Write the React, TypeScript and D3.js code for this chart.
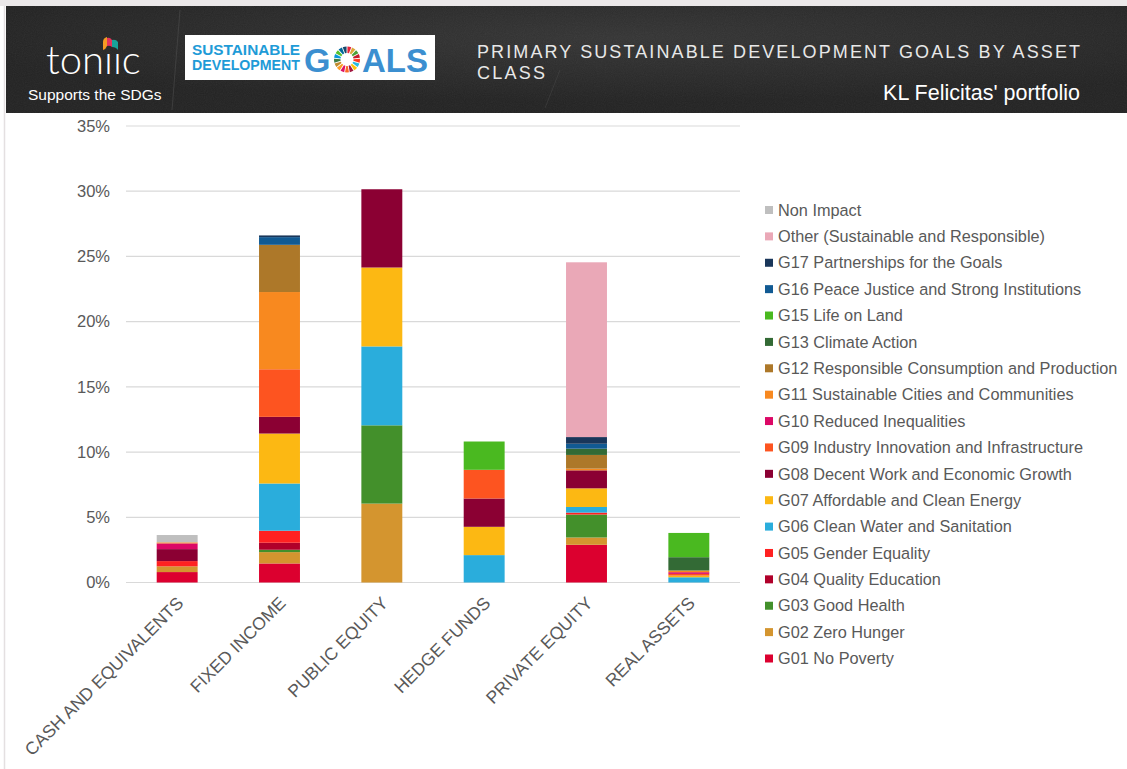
import * as d3 from "d3";

const W = 1127;
const H = 769;

const categories = [
  "CASH AND EQUIVALENTS",
  "FIXED INCOME",
  "PUBLIC EQUITY",
  "HEDGE FUNDS",
  "PRIVATE EQUITY",
  "REAL ASSETS",
];

// stack order, bottom to top
const goals = [
  "G01 No Poverty",
  "G02 Zero Hunger",
  "G03 Good Health",
  "G04 Quality Education",
  "G05 Gender Equality",
  "G06 Clean Water and Sanitation",
  "G07 Affordable and Clean Energy",
  "G08 Decent Work and Economic Growth",
  "G09 Industry Innovation and Infrastructure",
  "G10 Reduced Inequalities",
  "G11 Sustainable Cities and Communities",
  "G12 Responsible Consumption and Production",
  "G13 Climate Action",
  "G15 Life on Land",
  "G16 Peace Justice and Strong Institutions",
  "G17 Partnerships for the Goals",
  "Other (Sustainable and Responsible)",
  "Non Impact",
];

const goalColors = [
  "#dc002f", "#d4952f", "#43902b", "#b0002a", "#ff2121", "#2aaddc",
  "#fcb813", "#8b0033", "#fd5420", "#dc0866", "#f8891f", "#ad7829",
  "#336a35", "#4ab920", "#115a93", "#19365a", "#eaa8b7", "#bfbfbf",
];

// percent of portfolio, one row per goal, columns follow categories
const g01 = [0.8, 1.46, 0, 0, 2.89, 0];
const g02 = [0.44, 0.87, 6.05, 0, 0.56, 0];
const g03 = [0, 0.18, 6.0, 0, 1.76, 0];
const g04 = [0, 0.54, 0, 0, 0, 0];
const g05 = [0.4, 0.92, 0, 0, 0.15, 0];
const g06 = [0, 3.62, 6.05, 2.1, 0.43, 0.4];
const g07 = [0, 3.83, 6.05, 2.17, 1.43, 0.13];
const g08 = [0.92, 1.28, 6.0, 2.17, 1.38, 0];
const g09 = [0, 3.65, 0, 2.2, 0, 0.13];
const g10 = [0.44, 0, 0, 0, 0, 0.13];
const g11 = [0.08, 5.92, 0, 0, 0.13, 0.13];
const g12 = [0, 3.62, 0, 0, 1.05, 0];
const g13 = [0, 0, 0, 0, 0.48, 1.02];
const g15 = [0, 0, 0, 2.17, 0, 1.86];
const g16 = [0, 0.59, 0, 0, 0.38, 0];
const g17 = [0, 0.13, 0, 0, 0.51, 0];
const other = [0, 0, 0, 0, 13.4, 0];
const nonImpact = [0.56, 0, 0, 0, 0, 0];

const seriesValues = [
  g01, g02, g03, g04, g05, g06, g07, g08, g09, g10, g11, g12, g13, g15, g16, g17, other, nonImpact,
];

const yTicks = [0, 5, 10, 15, 20, 25, 30, 35];

const sdgWheel = [
  "#E5243B", "#DDA63A", "#4C9F38", "#C5192D", "#FF3A21", "#26BDE2", "#FCC30B", "#A21942",
  "#FD6925", "#DD1367", "#FD9D24", "#BF8B2E", "#3F7E44", "#0A97D9", "#56C02B", "#00689D", "#19486A",
];

const FONT = "'Liberation Sans', Arial, Helvetica, sans-serif";
const TEXT = "#595959";

function Header() {
  const arc = d3.arc<d3.PieArcDatum<string>>().innerRadius(6.5).outerRadius(13).padAngle(0.06);
  const pie = d3.pie<string>().value(1).sort(null);
  const wheel = pie(sdgWheel);

  return (
    <g>
      <defs>
        <filter id="chalk" x="0" y="0" width="100%" height="100%">
          <feTurbulence type="fractalNoise" baseFrequency="0.9" numOctaves={2} seed={3} />
          <feColorMatrix type="saturate" values="0" />
        </filter>
        <radialGradient id="boardGlow" cx="0.55" cy="0.3" r="0.6">
          <stop offset="0" stopColor="#353535" />
          <stop offset="1" stopColor="#232323" />
        </radialGradient>
      </defs>
      <rect x={6} y={6} width={W - 6} height={107} fill="url(#boardGlow)" />
      <rect x={6} y={6} width={W - 6} height={107} filter="url(#chalk)" opacity={0.07} />
      <path d="M180,10 L172,110" stroke="#555" strokeWidth={0.8} opacity={0.6} />
      <path d="M560,70 L545,108" stroke="#4a4a4a" strokeWidth={0.8} opacity={0.6} />

      {/* toniic logo */}
      <text x={46} y={74} fill="#ffffff" fontFamily="Lato, 'Open Sans', sans-serif" fontWeight={300} fontSize={40}>
        tonııc
      </text>
      <path d="M103,50 L103,42 Q103,38 107,37 L107,46 Q106,49 103,50 Z" fill="#f59a23" />
      <path d="M107,46 L107,38 Q110,37 112,40 L112,47 Q110,45 107,46 Z" fill="#e4345b" />
      <path d="M112,47 L112,40 Q116,39 118,42 L118,50 Q116,47 112,47 Z" fill="#17a39a" />
      <text x={28} y={100} fill="#ffffff" fontFamily={FONT} fontSize={15.5}>
        Supports the SDGs
      </text>

      {/* SDG logo */}
      <rect x={185} y={35} width={250} height={45} fill="#ffffff" />
      <text x={192} y={55} fill="#1e9bd7" fontFamily={FONT} fontWeight={700} fontSize={14.5} textLength={108} lengthAdjust="spacingAndGlyphs">
        SUSTAINABLE
      </text>
      <text x={192} y={70} fill="#1e9bd7" fontFamily={FONT} fontWeight={700} fontSize={14.5} textLength={108} lengthAdjust="spacingAndGlyphs">
        DEVELOPMENT
      </text>
      <text x={304} y={72} fill="#3b8fd0" fontFamily={FONT} fontWeight={700} fontSize={34}>
        G
      </text>
      <g transform="translate(347,59.5)">
        {wheel.map((d, i) => (
          <path key={i} d={arc(d) ?? ""} fill={d.data} />
        ))}
      </g>
      <text x={362} y={72} fill="#3b8fd0" fontFamily={FONT} fontWeight={700} fontSize={34} textLength={66} lengthAdjust="spacingAndGlyphs">
        ALS
      </text>

      {/* titles */}
      <text x={477} y={58} fill="#e8e8e8" fontFamily={FONT} fontSize={18} textLength={603} lengthAdjust="spacing">
        PRIMARY SUSTAINABLE DEVELOPMENT GOALS BY ASSET
      </text>
      <text x={477} y={79} fill="#e8e8e8" fontFamily={FONT} fontSize={18} textLength={68} lengthAdjust="spacing">
        CLASS
      </text>
      <text x={1080} y={100} fill="#ffffff" fontFamily={FONT} fontSize={21.5} textAnchor="end">
        KL Felicitas' portfolio
      </text>
    </g>
  );
}

export default function App() {
  const x = d3.scaleBand<string>().domain(categories).range([126, 740]).paddingInner(0.6).paddingOuter(0.3);
  const y = d3.scaleLinear().domain([0, 35]).range([582.5, 126]);

  const rows = categories.map((c, ci) => {
    const row: Record<string, number | string> = { category: c };
    goals.forEach((g, gi) => (row[g] = seriesValues[gi][ci]));
    return row;
  });
  const stacked = d3.stack<Record<string, number | string>>().keys(goals)(rows as any);

  const legendOrder = goals.map((g, i) => ({ name: g, color: goalColors[i] })).reverse();
  const legendY = d3.scalePoint<number>().domain(d3.range(legendOrder.length)).range([210, 658.5]);

  return (
    <svg width={W} height={H} style={{ position: "absolute", left: 0, top: 0 }} fontFamily={FONT}>
      <rect width={W} height={H} fill="#ffffff" />
      <rect width={W} height={6} fill="#ebe8e9" />
      <line x1={4.5} x2={4.5} y1={6} y2={H} stroke="#e4e0e1" strokeWidth={1.5} />
      <Header />

      {/* grid + y axis */}
      <g>
        {yTicks.map((t) => (
          <g key={t}>
            <line x1={126} x2={740} y1={y(t)} y2={y(t)} stroke="#d9d9d9" strokeWidth={1.2} />
            <text x={110} y={y(t)} dy="0.35em" textAnchor="end" fontSize={16.5} fill={TEXT}>
              {t}%
            </text>
          </g>
        ))}
      </g>

      {/* bars */}
      <g>
        {stacked.map((s, si) => (
          <g key={s.key} fill={goalColors[si]}>
            {s.map((d, ci) =>
              d[1] - d[0] > 0 ? (
                <rect
                  key={ci}
                  x={x(categories[ci])}
                  y={y(d[1])}
                  width={x.bandwidth()}
                  height={y(d[0]) - y(d[1])}
                />
              ) : null,
            )}
          </g>
        ))}
      </g>

      {/* x labels */}
      <g>
        {categories.map((c) => {
          const cx = (x(c) ?? 0) + x.bandwidth() / 2;
          return (
            <text
              key={c}
              transform={`translate(${cx - 2},${595}) rotate(-45)`}
              textAnchor="end"
              dy="0.75em"
              fontSize={17.5}
              fill={TEXT}
            >
              {c}
            </text>
          );
        })}
      </g>

      {/* legend */}
      <g>
        {legendOrder.map((d, i) => (
          <g key={d.name} transform={`translate(765,${legendY(i)})`}>
            <rect x={0} y={-4} width={8} height={8} fill={d.color} />
            <text x={13} y={0} dy="0.35em" fontSize={16.3} fill={TEXT}>
              {d.name}
            </text>
          </g>
        ))}
      </g>
    </svg>
  );
}
